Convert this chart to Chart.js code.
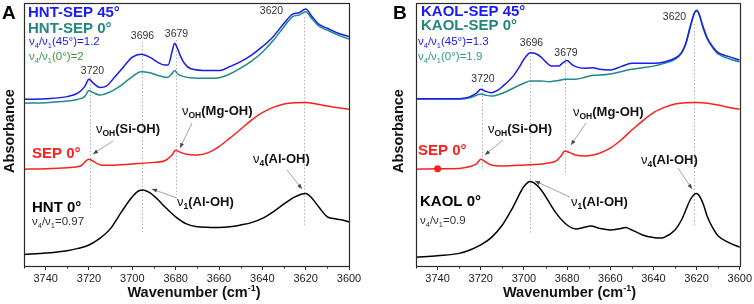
<!DOCTYPE html>
<html lang="en">
<head>
<meta charset="UTF-8">
<title>FTIR OH stretching region</title>
<script src="https://cdn.jsdelivr.net/npm/chart.js"></script>
<style>
    body { margin: 0; background: #fff; }
    #wrap { position: relative; width: 754px; height: 304px; }
    .panel { position: absolute; top: 0; width: 377px; height: 304px; }
</style>
</head>
<body>
<div id="wrap">
    <div class="panel" style="left:0"><canvas id="chartA" width="377" height="304"></canvas></div>
    <div class="panel" style="left:377px"><canvas id="chartB" width="377" height="304"></canvas></div>
</div>
<script>
// ---- data (wavenumber in cm-1, absorbance in arbitrary offset units) ----

// panel A
const hntSep45Wn = [3750,3740,3730,3725,3722,3720,3718,3715,3712,3708,3704,3700,3696,3692,3688,3685,3683.5,3681.5,3680.5,3679.5,3678,3676,3673,3665,3660,3655,3650,3645,3640,3635,3630,3626,3623,3620,3617,3614,3610,3605,3600];
const hntSep45Abs = [0.634,0.636,0.644,0.658,0.682,0.710,0.695,0.679,0.684,0.720,0.758,0.794,0.805,0.794,0.773,0.764,0.764,0.821,0.847,0.834,0.802,0.771,0.750,0.743,0.743,0.758,0.777,0.802,0.834,0.872,0.923,0.958,0.963,0.977,0.948,0.920,0.904,0.885,0.872];

const hntSep0Wn = [3750,3740,3730,3725,3722,3720,3718,3715,3710,3705,3700,3696,3692,3688,3684,3682,3680.5,3679,3677,3673,3665,3660,3655,3650,3645,3640,3635,3630,3626,3623,3620,3617,3614,3610,3605,3600];
const hntSep0Abs = [0.619,0.621,0.627,0.634,0.644,0.667,0.659,0.650,0.663,0.688,0.720,0.739,0.735,0.724,0.717,0.728,0.743,0.730,0.722,0.716,0.714,0.716,0.730,0.752,0.779,0.813,0.857,0.910,0.948,0.954,0.967,0.939,0.913,0.897,0.878,0.863];

const sepAWn = [3750,3740,3730,3724,3720,3717,3714,3710,3700,3690,3685,3682,3680,3678,3675,3670,3665,3660,3655,3650,3645,3640,3635,3630,3625,3620,3615,3610,3605,3600];
const sepAAbs = [0.368,0.370,0.374,0.380,0.406,0.393,0.383,0.383,0.388,0.394,0.400,0.419,0.440,0.433,0.425,0.422,0.431,0.454,0.486,0.520,0.555,0.583,0.603,0.616,0.621,0.622,0.616,0.608,0.602,0.596];

const hntWn = [3750,3740,3730,3725,3720,3715,3710,3705,3700,3697,3695,3692,3688,3685,3680,3675,3670,3665,3660,3655,3650,3645,3640,3635,3630,3625,3620,3617,3614,3610,3606,3603,3600];
const hntAbs = [0.044,0.049,0.058,0.067,0.080,0.105,0.143,0.206,0.263,0.286,0.289,0.279,0.251,0.225,0.187,0.160,0.149,0.147,0.146,0.149,0.156,0.165,0.181,0.206,0.236,0.263,0.276,0.257,0.225,0.187,0.179,0.175,0.168];

// panel B
const kaolSep45Wn = [3750,3740,3730,3727,3725,3722,3720,3718,3715,3712,3710,3705,3702,3700,3697,3695,3692,3690,3687,3684,3682,3680,3678,3676,3672,3668,3665,3660,3655,3650,3645,3640,3635,3630,3627,3625,3623,3621,3620,3619,3617,3615,3612,3610,3605,3600];
const kaolSep45Abs = [0.636,0.636,0.636,0.639,0.644,0.657,0.672,0.665,0.659,0.669,0.682,0.722,0.758,0.786,0.811,0.809,0.794,0.777,0.760,0.760,0.772,0.781,0.768,0.758,0.752,0.754,0.748,0.745,0.758,0.771,0.771,0.771,0.776,0.790,0.811,0.847,0.910,0.963,0.971,0.961,0.910,0.866,0.828,0.811,0.796,0.783];

const kaolSep0Wn = [3750,3730,3725,3722,3720,3718,3715,3710,3705,3700,3697,3692,3688,3684,3681,3679,3676,3672,3668,3665,3660,3655,3650,3645,3640,3635,3630,3627,3625,3623,3621,3620,3619,3617,3615,3612,3610,3605,3600];
const kaolSep0Abs = [0.635,0.635,0.640,0.649,0.654,0.650,0.646,0.657,0.676,0.695,0.703,0.703,0.701,0.705,0.710,0.710,0.710,0.717,0.725,0.726,0.730,0.739,0.748,0.754,0.760,0.771,0.786,0.809,0.844,0.904,0.961,0.973,0.961,0.904,0.862,0.824,0.806,0.788,0.776];

const sepBWn = [3750,3740,3730,3725,3722,3720,3718,3715,3710,3700,3690,3685,3683,3681,3679,3676,3672,3668,3665,3660,3655,3650,3645,3640,3635,3630,3625,3620,3615,3610,3605,3600];
const sepBAbs = [0.368,0.370,0.371,0.378,0.388,0.406,0.397,0.384,0.380,0.384,0.390,0.400,0.416,0.437,0.432,0.422,0.418,0.422,0.429,0.448,0.479,0.517,0.552,0.583,0.603,0.616,0.621,0.622,0.619,0.612,0.603,0.596];

const kaolWn = [3750,3740,3730,3725,3720,3715,3710,3705,3700,3697,3695,3692,3688,3685,3680,3676,3672,3669,3665,3660,3655,3653,3650,3645,3640,3637,3635,3630,3627,3625,3623,3621,3620,3619,3617,3615,3612,3610,3605,3600];
const kaolAbs = [0.033,0.039,0.048,0.061,0.080,0.109,0.156,0.225,0.302,0.321,0.314,0.289,0.238,0.200,0.156,0.141,0.147,0.152,0.143,0.137,0.143,0.146,0.137,0.118,0.108,0.106,0.109,0.137,0.175,0.213,0.251,0.273,0.276,0.270,0.238,0.187,0.137,0.114,0.089,0.071];

// axis ticks (labelled every 20, minor tick in between)
const wnMin = 3600, wnMax = 3750, wnStep = 10;

// ---- styling ----
const FONT = '"Liberation Sans", Arial, sans-serif';
const BLUE = '#1a1af2';
const TEAL = '#1e8a8a';
const RED = '#ff1e1e';
const BLACK = '#000000';

function xy(wn, abs) {
    return wn.map((x, i) => ({ x: x, y: abs[i] }));
}

// rich text: parts drawn one after another, with optional size / bold / baseline shift
function rich(ctx, x, y, parts, color, align) {
    let total = 0;
    parts.forEach(p => {
        ctx.font = (p.b ? 'bold ' : '') + p.s + 'px ' + FONT;
        total += ctx.measureText(p.t).width;
    });
    let cx = align === 'center' ? x - total / 2 : x;
    ctx.textAlign = 'left';
    ctx.textBaseline = 'alphabetic';
    parts.forEach(p => {
        ctx.font = (p.b ? 'bold ' : '') + p.s + 'px ' + FONT;
        ctx.fillStyle = p.c || color;
        ctx.fillText(p.t, cx, y + (p.dy || 0));
        cx += ctx.measureText(p.t).width;
    });
}

function ratio(a, b, rest, size) {
    const sub = size * 0.65;
    return [{ t: 'ν', s: size }, { t: a, s: sub, dy: 3 }, { t: '/ν', s: size }, { t: b, s: sub, dy: 3 }, { t: rest, s: size }];
}

function band(sub, name) {
    return [{ t: 'ν', s: 13 }, { t: sub, s: 8.5, b: true, dy: 3 }, { t: name, s: 13, b: true }];
}

function arrow(ctx, x0, y0, x1, y1) {
    ctx.save();
    ctx.strokeStyle = '#8c8c8c';
    ctx.lineWidth = 0.8;
    ctx.beginPath();
    ctx.moveTo(x0, y0);
    ctx.lineTo(x1, y1);
    ctx.stroke();
    const a = Math.atan2(y1 - y0, x1 - x0);
    ctx.fillStyle = '#444';
    ctx.beginPath();
    ctx.moveTo(x1, y1);
    ctx.lineTo(x1 - 5 * Math.cos(a) + 2 * Math.sin(a), y1 - 5 * Math.sin(a) - 2 * Math.cos(a));
    ctx.lineTo(x1 - 5 * Math.cos(a) - 2 * Math.sin(a), y1 - 5 * Math.sin(a) + 2 * Math.cos(a));
    ctx.closePath();
    ctx.fill();
    ctx.restore();
}

const decorPlugin = {
    id: 'decor',
    beforeDatasetsDraw(chart, args, opts) {
        const ctx = chart.ctx;
        const xs = chart.scales.x;
        ctx.save();
        ctx.strokeStyle = '#b4b4b4';
        ctx.lineWidth = 1;
        ctx.setLineDash([1.5, 2]);
        opts.dotted.forEach(d => {
            const px = Math.round(xs.getPixelForValue(d[0])) + 0.5;
            ctx.beginPath();
            ctx.moveTo(px, d[1]);
            ctx.lineTo(px, d[2]);
            ctx.stroke();
        });
        ctx.restore();
    },
    afterDraw(chart, args, opts) {
        const ctx = chart.ctx;
        const area = chart.chartArea;
        const xs = chart.scales.x;
        const off = opts.offset;
        ctx.save();

        // frame
        ctx.strokeStyle = '#2a2a2a';
        ctx.lineWidth = 1.2;
        ctx.strokeRect(Math.round(area.left) + 0.5, Math.round(area.top) + 0.5,
            Math.round(area.right - area.left), Math.round(area.bottom - area.top));

        // minor ticks
        ctx.lineWidth = 1;
        for (let v = wnMin; v <= wnMax; v += wnStep) {
            if (v % 20 === 0) continue;
            const px = Math.round(xs.getPixelForValue(v)) + 0.5;
            ctx.beginPath();
            ctx.moveTo(px, area.bottom);
            ctx.lineTo(px, area.bottom + 2.5);
            ctx.stroke();
        }

        // arrows
        opts.arrows.forEach(a => arrow(ctx, a[0] - off, a[1], a[2] - off, a[3]));

        // texts
        opts.texts.forEach(t => rich(ctx, t.x - off, t.y, t.parts, t.color || '#111', t.align));

        // axis titles
        rich(ctx, opts.xTitle - off, 297, [
            { t: 'Wavenumber (cm', s: 14.5, b: true },
            { t: '-1', s: 9, b: true, dy: -6 },
            { t: ')', s: 14.5, b: true }
        ], '#111', 'center');
        ctx.save();
        ctx.translate(opts.yTitle - off, 131);
        ctx.rotate(-Math.PI / 2);
        ctx.font = 'bold 14.5px ' + FONT;
        ctx.fillStyle = '#111';
        ctx.textAlign = 'center';
        ctx.textBaseline = 'middle';
        ctx.fillText('Absorbance', 0, 0);
        ctx.restore();

        // panel letter
        ctx.font = 'bold 19px ' + FONT;
        ctx.fillStyle = '#000';
        ctx.textAlign = 'left';
        ctx.textBaseline = 'alphabetic';
        ctx.fillText(opts.letter[0], opts.letter[1] - off, 18.5);
        ctx.restore();
    }
};

function makeChart(id, series, decor, padLeft, padRight) {
    return new Chart(document.getElementById(id), {
        type: 'line',
        data: {
            datasets: series.map(s => ({
                data: xy(s.wn, s.abs),
                borderColor: s.color,
                backgroundColor: s.color,
                borderWidth: 1.5,
                pointRadius: s.dot ? (c => (c.raw && c.raw.x === s.dot ? 3.5 : 0)) : 0,
                pointBorderWidth: 0,
                cubicInterpolationMode: 'monotone',
                fill: false
            }))
        },
        options: {
            responsive: false,
            animation: false,
            events: [],
            layout: { padding: { left: padLeft, right: padRight, top: 3, bottom: 0 } },
            plugins: { legend: { display: false }, tooltip: { enabled: false }, decor: decor },
            scales: {
                x: {
                    type: 'linear',
                    min: wnMin,
                    max: wnMax,
                    reverse: true,
                    border: { display: false },
                    grid: {
                        drawOnChartArea: false,
                        tickLength: 4,
                        tickColor: c => (c.tick && c.tick.value % 20 === 0 ? '#2a2a2a' : 'rgba(0,0,0,0)')
                    },
                    ticks: {
                        stepSize: wnStep,
                        autoSkip: false,
                        maxRotation: 0,
                        padding: 2,
                        color: '#222',
                        font: { family: FONT, size: 11 },
                        callback: v => (v % 20 === 0 ? String(v) : '')
                    },
                    afterFit: s => { s.height = 38; }
                },
                y: { display: false, min: 0, max: 1 }
            }
        },
        plugins: [decorPlugin]
    });
}

makeChart('chartA', [
    { wn: hntSep45Wn, abs: hntSep45Abs, color: BLUE },
    { wn: hntSep0Wn, abs: hntSep0Abs, color: TEAL },
    { wn: sepAWn, abs: sepAAbs, color: RED },
    { wn: hntWn, abs: hntAbs, color: BLACK }
], {
    offset: 0,
    letter: ['A', 2],
    xTitle: 194,
    yTitle: 10,
    dotted: [[3719.5, 77, 208], [3695.5, 42, 232], [3680, 40, 195], [3621, 17, 225]],
    arrows: [[113, 141, 93, 154], [192, 123, 180, 148], [287, 170, 302, 189], [177, 198, 152, 189]],
    texts: [
        { x: 28, y: 17, parts: [{ t: 'HNT-SEP 45°', s: 15, b: true }], color: BLUE },
        { x: 28, y: 32.5, parts: [{ t: 'HNT-SEP 0°', s: 15, b: true }], color: '#22877c' },
        { x: 29, y: 45, parts: ratio('4', '1', '(45°)=1.2', 11.5), color: BLUE },
        { x: 29, y: 59.5, parts: ratio('4', '1', '(0°)=2', 11.5), color: '#3c9a3c' },
        { x: 92.5, y: 74, parts: [{ t: '3720', s: 10.5 }], color: '#333', align: 'center' },
        { x: 142.5, y: 39, parts: [{ t: '3696', s: 10.5 }], color: '#333', align: 'center' },
        { x: 176.5, y: 37, parts: [{ t: '3679', s: 10.5 }], color: '#333', align: 'center' },
        { x: 271.5, y: 14, parts: [{ t: '3620', s: 10.5 }], color: '#333', align: 'center' },
        { x: 96, y: 132.5, parts: band('OH', '(Si-OH)') },
        { x: 182, y: 115, parts: band('OH', '(Mg-OH)') },
        { x: 32, y: 158, parts: [{ t: 'SEP 0°', s: 15, b: true }], color: RED },
        { x: 253, y: 163, parts: band('4', '(Al-OH)') },
        { x: 177, y: 205.5, parts: band('1', '(Al-OH)') },
        { x: 32, y: 212, parts: [{ t: 'HNT 0°', s: 15, b: true }], color: '#000' },
        { x: 32, y: 225, parts: ratio('4', '1', '=0.97', 11.5), color: '#333' }
    ]
}, 24, 28);

makeChart('chartB', [
    { wn: kaolSep45Wn, abs: kaolSep45Abs, color: BLUE },
    { wn: kaolSep0Wn, abs: kaolSep0Abs, color: TEAL },
    { wn: sepBWn, abs: sepBAbs, color: RED, dot: 3740 },
    { wn: kaolWn, abs: kaolAbs, color: BLACK }
], {
    offset: 377,
    letter: ['B', 393],
    xTitle: 569.5,
    yTitle: 399,
    dotted: [[3719.5, 85, 170], [3697, 49, 233], [3681, 59, 175], [3621, 24, 227]],
    arrows: [[503, 140, 485, 155], [586, 123, 571, 145], [678, 168, 692, 189], [570, 197, 535, 181]],
    texts: [
        { x: 421, y: 15.5, parts: [{ t: 'KAOL-SEP 45°', s: 15, b: true }], color: BLUE },
        { x: 421, y: 30, parts: [{ t: 'KAOL-SEP 0°', s: 15, b: true }], color: '#22877c' },
        { x: 418, y: 45, parts: ratio('4', '1', '(45°)=1.3', 11.5), color: BLUE },
        { x: 418, y: 60, parts: ratio('4', '1', '(0°)=1.9', 11.5), color: '#2a9a8a' },
        { x: 483, y: 81.5, parts: [{ t: '3720', s: 10.5 }], color: '#333', align: 'center' },
        { x: 531.5, y: 45.5, parts: [{ t: '3696', s: 10.5 }], color: '#333', align: 'center' },
        { x: 566, y: 55.5, parts: [{ t: '3679', s: 10.5 }], color: '#333', align: 'center' },
        { x: 674.5, y: 20, parts: [{ t: '3620', s: 10.5 }], color: '#333', align: 'center' },
        { x: 488, y: 133, parts: band('OH', '(Si-OH)') },
        { x: 573, y: 116, parts: band('OH', '(Mg-OH)') },
        { x: 418, y: 155, parts: [{ t: 'SEP 0°', s: 15, b: true }], color: RED },
        { x: 641, y: 164, parts: band('4', '(Al-OH)') },
        { x: 571, y: 206, parts: band('1', '(Al-OH)') },
        { x: 420, y: 206, parts: [{ t: 'KAOL 0°', s: 15, b: true }], color: '#000' },
        { x: 420, y: 224, parts: ratio('4', '1', '=0.9', 11.5), color: '#333' }
    ]
}, 39, 14);
</script>
</body>
</html>
